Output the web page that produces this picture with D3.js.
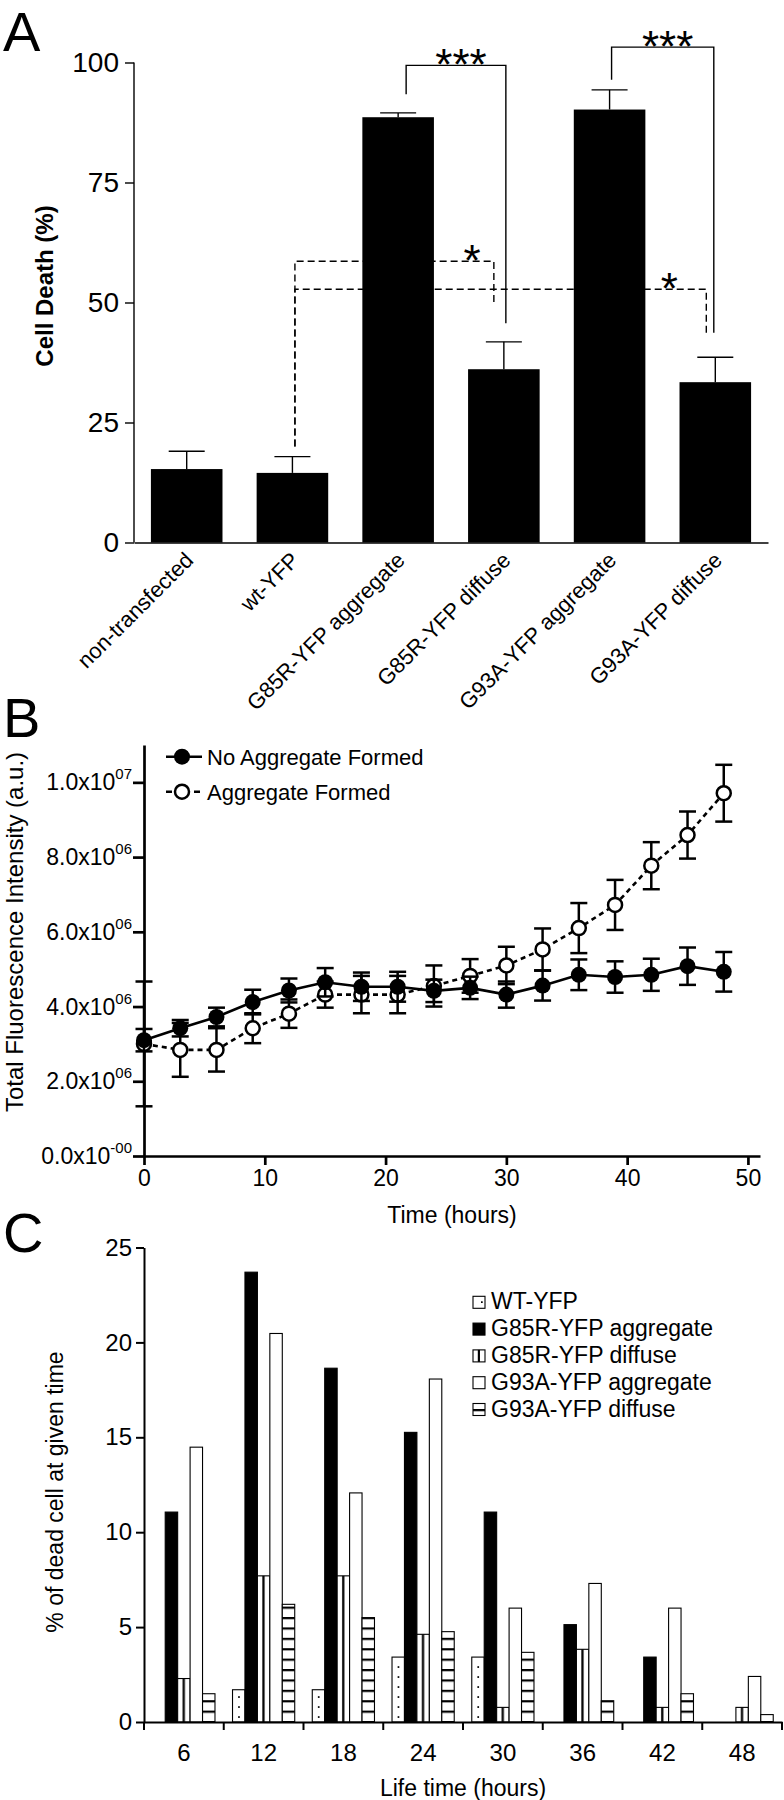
<!DOCTYPE html>
<html><head><meta charset="utf-8">
<script src="https://cdn.jsdelivr.net/npm/d3@7"></script>
<style>
body{margin:0;background:#fff}
svg{display:block;font-family:"Liberation Sans",Arial,Helvetica,sans-serif}
</style></head><body>
<svg id="c" width="784" height="1800"></svg>
<script>
// ---------------- Panel A data ----------------
const aCategories = ["non-transfected","wt-YFP","G85R-YFP aggregate","G85R-YFP diffuse","G93A-YFP aggregate","G93A-YFP diffuse"];
const aValues = [15.3, 14.5, 88.6, 36.1, 90.2, 33.4];
const aErrors = [3.7, 3.4, 0.9, 5.7, 4.1, 5.2];
const aTicks = [0, 25, 50, 75, 100];
// significance brackets (value units): from, to, bar level, left leg end, right leg end
const aSigSolid = [
  {a: 2, b: 3, level: 99.4, endA: 93.4, endB: 45.7, label: "***"},
  {a: 4, b: 5, level: 103.2, endA: 96.4, endB: 43.7, label: "***"}
];
const aSigDashed = [
  {a: 1, b: 3, level: 58.6, endA: 20.0, endB: 49.7, label: "*", at: 0.89},
  {a: 1, b: 5, level: 52.75, endA: 20.0, endB: 43.7, label: "*", at: 0.91}
];

// ---------------- Panel B data ----------------
const bTime = [0,3,6,9,12,15,18,21,24,27,30,33,36,39,42,45,48];
const bNoAgg =    [3.10,3.42,3.72,4.12,4.43,4.65,4.53,4.53,4.42,4.50,4.32,4.56,4.85,4.79,4.85,5.08,4.93];
const bNoAggErr = [0.30,0.22,0.25,0.33,0.32,0.38,0.38,0.40,0.30,0.30,0.35,0.40,0.41,0.42,0.43,0.50,0.53];
const bAgg =      [3.00,2.84,2.84,3.42,3.81,4.32,4.32,4.32,4.55,4.82,5.10,5.53,6.10,6.72,7.77,8.59,9.71];
const bAggErr =   [1.67,0.72,0.58,0.40,0.38,0.35,0.50,0.50,0.55,0.45,0.50,0.56,0.67,0.67,0.63,0.63,0.76];
const bUnit = 1e6;
const bYTicks = [0, 2e6, 4e6, 6e6, 8e6, 1e7];
const bYTickMant = ["0.0x10","2.0x10","4.0x10","6.0x10","8.0x10","1.0x10"];
const bYTickExp = ["-00","06","06","06","06","07"];
const bXTicks = [0,10,20,30,40,50];
const bLegend = ["No Aggregate Formed","Aggregate Formed"];

// ---------------- Panel C data ----------------
const cGroups = ["6","12","18","24","30","36","42","48"];
const cSeries = ["WT-YFP","G85R-YFP aggregate","G85R-YFP diffuse","G93A-YFP aggregate","G93A-YFP diffuse"];
const cWT      = [0, 1.70, 1.70, 3.42, 3.42, 0, 0, 0];
const cG85RAgg = [11.06, 23.7, 18.64, 15.26, 11.06, 5.13, 3.42, 0];
const cG85RDif = [2.29, 7.7, 7.7, 4.62, 0.77, 3.83, 0.77, 0.77];
const cG93AAgg = [14.48, 20.47, 12.07, 18.07, 6.0, 7.3, 6.0, 2.4];
const cG93ADif = [1.49, 6.2, 5.5, 4.76, 3.67, 1.12, 1.49, 0.39];
const cYTicks = [0,5,10,15,20,25];

const svg = d3.select("#c");
const defs = svg.append("defs");

// ================= Panel A =================
const xA = d3.scaleBand().domain(aCategories).range([134, 768]).paddingInner(0.323).paddingOuter(0.16);
const yA = d3.scaleLinear().domain([0, 100]).range([542.5, 62.5]);
const gA = svg.append("g");

gA.append("text").attr("x", 3).attr("y", 51).attr("font-size", 56).text("A");

const axA = gA.append("g").attr("transform", "translate(134,0)")
  .call(d3.axisLeft(yA).tickValues(aTicks).tickSize(9).tickPadding(6).tickSizeOuter(0));
axA.selectAll("path,line").attr("stroke-width", 1.4);
axA.selectAll("text").attr("font-size", 28).attr("font-family", null).attr("fill", "#000");
axA.select(".domain").attr("d", `M0,${yA(100)}V${yA(0)}`);

const axAx = gA.append("g").attr("transform", `translate(0,${yA(0)})`)
  .call(d3.axisBottom(xA).tickSize(0).tickFormat(""));
axAx.select(".domain").attr("stroke-width", 1.4);

gA.append("text").attr("transform", `translate(53,286) rotate(-90)`)
  .attr("text-anchor", "middle").attr("font-size", 24).attr("font-weight", "bold").text("Cell Death (%)");

gA.selectAll(".barA").data(aCategories).enter().append("rect")
  .attr("x", d => xA(d)).attr("width", xA.bandwidth())
  .attr("y", (d, i) => yA(aValues[i])).attr("height", (d, i) => yA(0) - yA(aValues[i]))
  .attr("fill", "#000");

aCategories.forEach((c, i) => {
  const cx = xA(c) + xA.bandwidth() / 2;
  gA.append("line").attr("x1", cx).attr("x2", cx).attr("y1", yA(aValues[i])).attr("y2", yA(aValues[i] + aErrors[i]))
    .attr("stroke", "#000").attr("stroke-width", 1.4);
  gA.append("line").attr("x1", cx - 18).attr("x2", cx + 18).attr("y1", yA(aValues[i] + aErrors[i])).attr("y2", yA(aValues[i] + aErrors[i]))
    .attr("stroke", "#000").attr("stroke-width", 1.4);
  gA.append("text").attr("transform", `translate(${cx + 8},${yA(0) + 19}) rotate(-45)`)
    .attr("text-anchor", "end").attr("font-size", 22).text(c);
});

const ctr = i => xA(aCategories[i]) + xA.bandwidth() / 2;
const solidOff = [[8, 2], [2, -1.5]];
aSigSolid.forEach((s, k) => {
  const xa = ctr(s.a) + solidOff[k][0], xb = ctr(s.b) + solidOff[k][1];
  gA.append("path").attr("d", `M${xa},${yA(s.endA)}V${yA(s.level)}H${xb}V${yA(s.endB)}`)
    .attr("fill", "none").attr("stroke", "#000").attr("stroke-width", 1.4);
  gA.append("text").attr("x", (xa + xb) / 2 + 5).attr("y", yA(s.level) + 15)
    .attr("text-anchor", "middle").attr("font-size", 44).text(s.label);
});
const dashOff = [[2.5, -10], [2.5, -9]];
aSigDashed.forEach((s, k) => {
  const xa = ctr(s.a) + dashOff[k][0], xb = ctr(s.b) + dashOff[k][1];
  gA.append("path").attr("d", `M${xa},${yA(s.endA)}V${yA(s.level)}H${xb}V${yA(s.endB)}`)
    .attr("fill", "none").attr("stroke", "#000").attr("stroke-width", 1.4).attr("stroke-dasharray", "7,4");
  gA.append("text").attr("x", xa + (xb - xa) * s.at).attr("y", yA(s.level) + 15)
    .attr("text-anchor", "middle").attr("font-size", 44).text(s.label);
});

// ================= Panel B =================
const xB = d3.scaleLinear().domain([0, 51]).range([144, 760]);
const yB = d3.scaleLinear().domain([0, 1.1e7]).range([1156, 745]);
const gB = svg.append("g");
gB.append("text").attr("x", 3).attr("y", 737).attr("font-size", 56).text("B");

const axBy = gB.append("g").attr("transform", "translate(144,0)")
  .call(d3.axisLeft(yB).tickValues(bYTicks).tickSize(11).tickFormat("").tickSizeOuter(0));
axBy.selectAll("path,line").attr("stroke-width", 2.7);
bYTicks.forEach((v, i) => {
  const t = gB.append("text").attr("x", 144 - 12).attr("y", yB(v) + 8).attr("text-anchor", "end").attr("font-size", 23);
  t.append("tspan").text(bYTickMant[i]);
  t.append("tspan").attr("font-size", 15).attr("dy", -11).text(bYTickExp[i]);
});
const axBx = gB.append("g").attr("transform", `translate(0,${yB(0)})`)
  .call(d3.axisBottom(xB).tickValues(bXTicks).tickSize(9).tickPadding(5).tickSizeOuter(0));
axBx.selectAll("path,line").attr("stroke-width", 2.7);
axBx.selectAll("text").attr("font-size", 23).attr("font-family", null).attr("fill", "#000");

gB.append("text").attr("x", (144 + 760) / 2).attr("y", 1223).attr("text-anchor", "middle").attr("font-size", 23).text("Time (hours)");
gB.append("text").attr("transform", "translate(23,932) rotate(-90)").attr("text-anchor", "middle")
  .attr("font-size", 24).text("Total Fluorescence Intensity (a.u.)");

function drawSeries(vals, errs, filled) {
  const pts = bTime.map((t, i) => ({t, v: vals[i] * bUnit, e: errs[i] * bUnit}));
  const line = d3.line().x(d => xB(d.t)).y(d => yB(d.v));
  gB.append("path").datum(pts).attr("d", line).attr("fill", "none").attr("stroke", "#000")
    .attr("stroke-width", 2.6).attr("stroke-dasharray", filled ? null : "5,4");
  pts.forEach(d => {
    const x = xB(d.t);
    gB.append("line").attr("x1", x).attr("x2", x).attr("y1", yB(d.v - d.e)).attr("y2", yB(d.v + d.e)).attr("stroke", "#000").attr("stroke-width", 2.5);
    [d.v - d.e, d.v + d.e].forEach(yy => gB.append("line").attr("x1", x - 8.5).attr("x2", x + 8.5)
      .attr("y1", yB(yy)).attr("y2", yB(yy)).attr("stroke", "#000").attr("stroke-width", 2.5));
  });
  gB.selectAll(null).data(pts).enter().append("circle")
    .attr("cx", d => xB(d.t)).attr("cy", d => yB(d.v)).attr("r", filled ? 8 : 7)
    .attr("fill", filled ? "#000" : "#fff").attr("stroke", "#000").attr("stroke-width", filled ? 0 : 2.5);
}
drawSeries(bAgg, bAggErr, false);
drawSeries(bNoAgg, bNoAggErr, true);

// legend B
[0, 1].forEach(i => {
  const ly = 756.7 + i * 35;
  gB.append("line").attr("x1", 166).attr("x2", 202).attr("y1", ly).attr("y2", ly).attr("stroke", "#000")
    .attr("stroke-width", 2.6).attr("stroke-dasharray", i === 0 ? null : "6,8");
  gB.append("circle").attr("cx", 182).attr("cy", ly).attr("r", i === 0 ? 8 : 7)
    .attr("fill", i === 0 ? "#000" : "#fff").attr("stroke", "#000").attr("stroke-width", i === 0 ? 0 : 2.5);
  gB.append("text").attr("x", 207).attr("y", ly + 8).attr("font-size", 22).text(bLegend[i]);
});

// ================= Panel C =================
const x0 = d3.scaleBand().domain(cGroups).range([144, 782]).padding(0);
const bw = x0.bandwidth();
const x1 = d3.scaleBand().domain(cSeries).range([bw * 0.11, bw * 0.89]).padding(0);
const yC = d3.scaleLinear().domain([0, 25]).range([1722, 1247.5]);
const gC = svg.append("g");
gC.append("text").attr("x", 3).attr("y", 1252).attr("font-size", 56).text("C");

// patterns
const ph = defs.append("pattern").attr("id", "hstripe").attr("patternUnits", "userSpaceOnUse")
  .attr("width", 12).attr("height", 10.4).attr("y", yC(0) - 1);
ph.append("rect").attr("width", 12).attr("height", 10.4).attr("fill", "#fff");
ph.append("rect").attr("y", 0).attr("width", 12).attr("height", 2.2).attr("fill", "#000");
const pv = defs.append("pattern").attr("id", "vstripe").attr("patternUnits", "objectBoundingBox")
  .attr("patternContentUnits", "objectBoundingBox").attr("width", 1).attr("height", 1);
pv.append("rect").attr("width", 1).attr("height", 1).attr("fill", "#fff");
pv.append("rect").attr("x", 0.4).attr("width", 0.18).attr("height", 1).attr("fill", "#000");

const cData = [cWT, cG85RAgg, cG85RDif, cG93AAgg, cG93ADif];
const cFill = ["#fff", "#000", "url(#vstripe)", "#fff", "url(#hstripe)"];

cGroups.forEach((g, gi) => {
  cSeries.forEach((s, si) => {
    const v = cData[si][gi];
    if (v <= 0) return;
    const x = x0(g) + x1(s), y = yC(v), h = yC(0) - yC(v), w = x1.bandwidth();
    gC.append("rect").attr("x", x).attr("y", y).attr("width", w).attr("height", h)
      .attr("fill", cFill[si]).attr("stroke", "#000").attr("stroke-width", 1.1);
    if (si === 0) {
      for (let yy = yC(0) - 5; yy > y + 3; yy -= 10) {
        gC.append("rect").attr("x", x + w * 0.45).attr("y", yy - 0.8).attr("width", 1.7).attr("height", 1.7).attr("fill", "#000");
      }
    }
  });
});

const axCy = gC.append("g").attr("transform", "translate(144,0)")
  .call(d3.axisLeft(yC).tickValues(cYTicks).tickSize(8).tickPadding(4).tickSizeOuter(0));
axCy.selectAll("path,line").attr("stroke-width", 2);
axCy.selectAll("text").attr("font-size", 24).attr("font-family", null).attr("fill", "#000");

const axCx = gC.append("g").attr("transform", `translate(0,${yC(0)})`)
  .call(d3.axisBottom(x0).tickSize(0).tickPadding(22).tickSizeOuter(0));
axCx.select(".domain").attr("stroke-width", 2);
axCx.selectAll("text").attr("font-size", 24).attr("font-family", null).attr("fill", "#000");
const bounds = cGroups.map(g => x0(g)).concat([x0.range()[1]]);
gC.selectAll(".bt").data(bounds).enter().append("line")
  .attr("x1", d => d).attr("x2", d => d).attr("y1", yC(0)).attr("y2", yC(0) + 8)
  .attr("stroke", "#000").attr("stroke-width", 2);

gC.append("text").attr("x", (144 + 782) / 2).attr("y", 1796).attr("text-anchor", "middle").attr("font-size", 23).text("Life time (hours)");
gC.append("text").attr("transform", "translate(63,1492) rotate(-90)").attr("text-anchor", "middle")
  .attr("font-size", 23).text("% of dead cell at given time");

// legend C
cSeries.forEach((s, i) => {
  const by = 1309.3 + i * 26.8;
  gC.append("rect").attr("x", 473).attr("y", by - 13).attr("width", 12).attr("height", 12)
    .attr("fill", cFill[i]).attr("stroke", "#000").attr("stroke-width", 1.1);
  if (i === 0) gC.append("rect").attr("x", 481).attr("y", by - 8).attr("width", 1.7).attr("height", 1.7).attr("fill", "#000");
  gC.append("text").attr("x", 491).attr("y", by).attr("font-size", 23).text(s);
});
</script>
</body></html>
